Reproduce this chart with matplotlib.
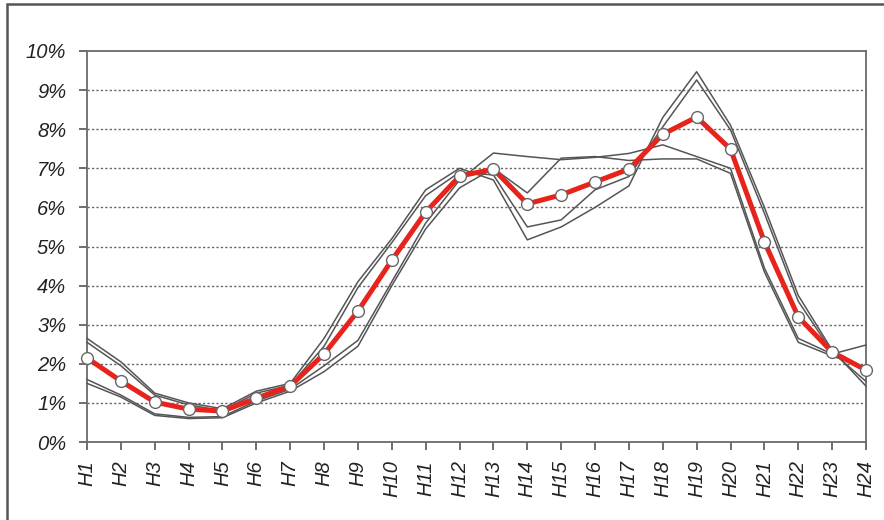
import matplotlib
matplotlib.use("Agg")
import matplotlib.pyplot as plt
from matplotlib.patches import Rectangle

hours = [f"H{i}" for i in range(1, 25)]

mean_share = [2.15, 1.56, 1.02, 0.84, 0.79, 1.12, 1.43, 2.25, 3.35, 4.65, 5.88, 6.80,
              6.98, 6.09, 6.32, 6.65, 6.98, 7.87, 8.31, 7.49, 5.12, 3.20, 2.30, 1.84]

series_a = [2.65, 2.05, 1.25, 1.00, 0.85, 1.30, 1.50, 2.65, 4.10, 5.20, 6.45, 7.00,
            6.70, 5.17, 5.50, 6.00, 6.55, 8.30, 9.47, 8.10, 6.00, 3.75, 2.35, 1.43]
series_b = [2.55, 1.95, 1.20, 0.95, 0.80, 1.25, 1.45, 2.45, 3.95, 5.10, 6.30, 6.90,
            6.83, 5.50, 5.68, 6.45, 6.79, 8.06, 9.26, 7.98, 5.85, 3.60, 2.30, 1.55]
series_c = [1.60, 1.20, 0.72, 0.63, 0.65, 1.05, 1.35, 1.95, 2.60, 4.10, 5.60, 6.70,
            7.39, 7.30, 7.22, 7.28, 7.38, 7.60, 7.30, 7.00, 4.45, 2.65, 2.25, 2.48]
series_d = [1.50, 1.15, 0.68, 0.60, 0.62, 1.00, 1.30, 1.80, 2.45, 4.00, 5.45, 6.50,
            7.00, 6.37, 7.26, 7.30, 7.20, 7.24, 7.24, 6.87, 4.35, 2.55, 2.20, 1.90]

y_ticks = list(range(0, 11))
y_labels = [f"{v}%" for v in y_ticks]

W, H = 884, 520
fig = plt.figure(figsize=(W / 100, H / 100), dpi=100)
ax = fig.add_axes([87 / W, 1 - 442 / H, (866 - 87) / W, (442 - 51) / H])

# outer frame of the figure (top and left visible)
fig.patches.append(Rectangle((7 / W, -0.1), 1.2, 1 - 4 / H + 0.1, transform=fig.transFigure,
                             fill=False, edgecolor="#555555", linewidth=1.8))

x = list(range(len(hours)))
for s in (series_a, series_b, series_c, series_d):
    ax.plot(x, s, color="#555555", linewidth=1.1, zorder=3, clip_on=False)

ax.plot(x, mean_share, color="#e8231b", linewidth=3.6, zorder=4, clip_on=False,
        marker="o", markersize=8.5, markerfacecolor="white", markeredgecolor="#666666",
        markeredgewidth=1.0)

ax.set_xlim(0, 23)
ax.set_ylim(0, 10)
ax.set_yticks(y_ticks)
ax.set_yticklabels(y_labels)
ax.set_xticks(x)
ax.set_xticklabels(hours, rotation=90)

for y in range(1, 10):
    ax.axhline(y, color="#666666", linewidth=1.0, linestyle=(0, (1.6, 1.6)), zorder=1)

for sp in ax.spines.values():
    sp.set_color("#6a6a6a")
    sp.set_linewidth(1.3)

ax.tick_params(axis="both", direction="out", length=6, width=1.2, color="#555555",
               labelsize=14.5, labelcolor="#222222")
ax.tick_params(axis="y", pad=9)
ax.tick_params(axis="x", pad=7)
for lab in ax.get_xticklabels() + ax.get_yticklabels():
    lab.set_fontfamily("Liberation Sans")
    lab.set_fontstyle("italic")

fig.savefig("out.png", dpi=100)
